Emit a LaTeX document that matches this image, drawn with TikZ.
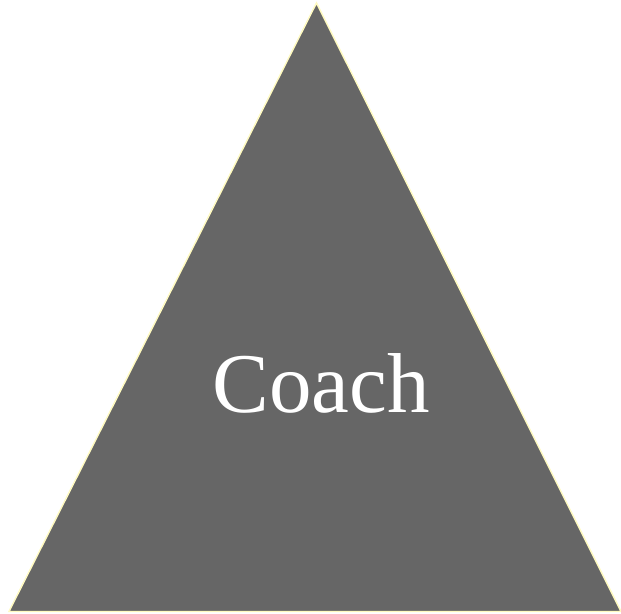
\documentclass[tikz,border=0pt]{standalone}
\usepackage{fontspec}
\setmainfont{Liberation Serif}
\usepackage{tikz}
\usetikzlibrary{positioning}
\usepackage{xcolor}
\definecolor{coachgray}{HTML}{666666}
\definecolor{edgeyellow}{HTML}{FFFAC0}

\begin{document}
\begin{tikzpicture}[
  x=1pt, y=1pt,
  pyramid/.style={fill=coachgray, draw=edgeyellow, line width=1.4pt,
    line join=miter},
  label/.style={text=white, font=\fontsize{85}{85}\selectfont,
    inner sep=0pt, anchor=base}
]
  \useasboundingbox (0,0) rectangle (621,613);

  % Corners
  \coordinate (top) at (316.5,610);
  \coordinate (left) at (9,1.5);
  \coordinate (right) at (621,1.5);

  % Triangle
  \begin{scope}
    \clip (0,0) rectangle (621,613);
    \draw[pyramid] (left) -- (top) -- (right) -- cycle;
  \end{scope}

  % Text
  \node[label] (coach) at (321,200) {Coach};
\end{tikzpicture}
\end{document}
